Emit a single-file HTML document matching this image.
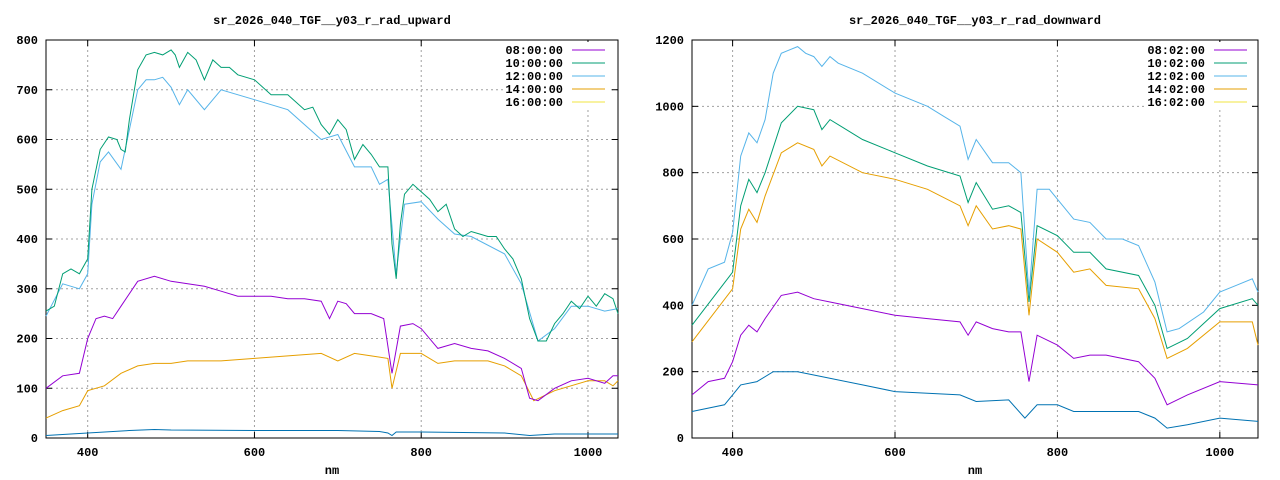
<!DOCTYPE html>
<html><head><meta charset="utf-8"><style>
html,body{margin:0;padding:0;background:#fff;}
svg{display:block;}
text{font-family:"Liberation Mono","DejaVu Sans Mono",monospace;font-size:12px;font-weight:bold;fill:#000;}
</style></head><body>
<svg id="s" width="1280" height="480" xmlns="http://www.w3.org/2000/svg"></svg>
<script>
const svg=document.getElementById('s');
let h='';
function chart(o){
  const {L,R,T,B,ymax,ystep,title,labels,series,legX}=o;
  const xend=o.xend||1036;
  const X=v=>L+(v-350)*(R-L)/(xend-350);
  const Y=v=>B-(v/ymax)*(B-T);
  for(let v=0;v<=ymax;v+=ystep){const y=Y(v);
    if(v>0&&v<ymax)h+=`<line x1="${L}" y1="${y}" x2="${R}" y2="${y}" stroke="#a0a0a0" stroke-dasharray="2,3"/>`;
    h+=`<line x1="${L}" y1="${y}" x2="${L+6}" y2="${y}" stroke="#000"/><line x1="${R-6}" y1="${y}" x2="${R}" y2="${y}" stroke="#000"/>`;
    h+=`<text x="${L-8}" y="${y+4}" text-anchor="end">${v}</text>`;}
  for(const v of [400,600,800,1000]){const x=X(v);
    h+=`<line x1="${x}" y1="${T}" x2="${x}" y2="${B}" stroke="#a0a0a0" stroke-dasharray="2,3"/>`;
    h+=`<line x1="${x}" y1="${B}" x2="${x}" y2="${B-6}" stroke="#000"/><line x1="${x}" y1="${T}" x2="${x}" y2="${T+6}" stroke="#000"/>`;
    h+=`<text x="${x}" y="${B+18}" text-anchor="middle">${v}</text>`;}
  h+=`<rect x="${L}" y="${T}" width="${R-L}" height="${B-T}" fill="none" stroke="#000"/>`;
  h+=`<text x="${(L+R)/2}" y="24" text-anchor="middle">${title}</text>`;
  h+=`<text x="${(L+R)/2}" y="474" text-anchor="middle">nm</text>`;
  const cols=['#9400d3','#009e73','#56b4e9','#e69f00','#f0e442'];
  labels.forEach((l,i)=>{const y=51+i*13;
    h+=`<rect x="${legX-58}" y="${y-9}" width="104" height="13" fill="#fff"/>`;
    h+=`<text x="${legX}" y="${y+3}" text-anchor="end">${l}</text><line x1="${legX+9}" y1="${y-1}" x2="${legX+42}" y2="${y-1}" stroke="${cols[i]}"/>`;});
  series.forEach(([c,d])=>{let p='';for(let i=0;i<d.length;i+=2)p+=(i?'L':'M')+X(Math.min(d[i],xend)).toFixed(1)+','+Y(d[i+1]).toFixed(1);
    h+=`<path d="${p}" fill="none" stroke="${c}" stroke-width="1"/>`;});
}
chart({L:46,R:618,T:40,B:438,ymax:800,ystep:100,title:'sr_2026_040_TGF__y03_r_rad_upward',legX:563,xend:1036,
labels:['08:00:00','10:00:00','12:00:00','14:00:00','16:00:00'],
series:[
['#0072b2',[350,5,400,10,450,15,480,17,500,16,600,15,700,15,750,13,760,10,765,5,770,12,800,12,900,10,930,5,960,8,1036,8]],
['#e69f00',[350,40,370,55,390,65,400,95,420,105,440,130,460,145,480,150,500,150,520,155,560,155,600,160,640,165,680,170,700,155,720,170,740,165,760,160,765,100,775,170,800,170,820,150,840,155,880,155,900,145,920,125,935,75,960,95,1000,115,1020,115,1030,105,1036,115]],
['#9400d3',[350,100,370,125,390,130,400,200,410,240,420,245,430,240,440,265,460,315,480,325,500,315,520,310,540,305,560,295,580,285,600,285,620,285,640,280,660,280,680,275,690,240,700,275,710,270,720,250,740,250,755,240,765,130,775,225,790,230,800,220,820,180,840,190,860,180,880,175,900,160,920,140,930,80,940,75,960,100,980,115,1000,120,1020,110,1030,125,1036,125]],
['#56b4e9',[350,245,370,310,390,300,400,330,405,470,415,555,425,575,440,540,450,620,460,700,470,720,480,720,490,725,500,705,510,670,520,700,540,660,560,700,600,680,640,660,680,600,700,610,720,545,740,545,750,510,760,520,770,330,780,470,800,475,820,440,840,410,860,405,900,370,920,310,940,195,960,220,980,265,1000,265,1020,255,1036,260]],
['#009e73',[350,255,360,265,370,330,380,340,390,330,400,360,405,500,415,580,425,605,435,600,440,580,445,575,450,640,460,740,470,770,480,775,490,770,500,780,505,770,510,745,520,775,530,760,540,720,550,760,560,745,570,745,580,730,600,720,620,690,640,690,660,660,670,665,680,630,690,610,700,640,710,620,720,560,730,590,740,570,750,545,760,545,765,390,770,320,775,430,780,490,790,510,800,495,810,480,820,455,830,470,840,420,850,405,860,415,870,410,880,405,890,405,900,380,910,360,920,320,930,240,940,195,950,195,960,230,970,250,980,275,990,260,1000,285,1010,265,1020,290,1030,280,1036,250]]
]});
chart({L:692,R:1258,T:40,B:438,ymax:1200,ystep:200,title:'sr_2026_040_TGF__y03_r_rad_downward',legX:1205,xend:1047,
labels:['08:02:00','10:02:00','12:02:00','14:02:00','16:02:00'],
series:[
['#0072b2',[350,80,390,100,400,130,410,160,430,170,450,200,480,200,500,190,560,160,600,140,680,130,700,110,740,115,760,60,775,100,800,100,820,80,900,80,920,60,935,30,960,40,1000,60,1047,50]],
['#9400d3',[350,130,370,170,390,180,400,230,410,310,420,340,430,320,440,360,460,430,480,440,500,420,520,410,560,390,600,370,640,360,680,350,690,310,700,350,720,330,740,320,755,320,765,170,775,310,800,280,820,240,840,250,860,250,900,230,920,180,935,100,960,130,1000,170,1047,160]],
['#e69f00',[350,290,400,450,410,630,420,690,430,650,440,730,460,860,480,890,500,870,510,820,520,850,560,800,600,780,640,750,680,700,690,640,700,700,720,630,740,640,755,630,765,370,775,600,800,560,820,500,840,510,860,460,900,450,920,360,935,240,960,270,1000,350,1040,350,1047,280]],
['#009e73',[350,340,400,500,410,700,420,780,430,740,440,800,460,950,480,1000,500,990,510,930,520,960,560,900,600,860,640,820,680,790,690,710,700,770,720,690,740,700,755,680,765,410,775,640,800,610,820,560,840,560,860,510,900,490,920,400,935,270,960,300,1000,390,1040,420,1047,400]],
['#56b4e9',[350,400,370,510,390,530,400,620,410,850,420,920,430,890,440,960,450,1100,460,1160,470,1170,480,1180,490,1160,500,1150,510,1120,520,1150,530,1130,560,1100,600,1040,640,1000,660,970,680,940,690,840,700,900,720,830,740,830,755,800,765,430,775,750,790,750,800,720,820,660,840,650,860,600,880,600,900,580,920,470,935,320,950,330,980,380,1000,440,1020,460,1040,480,1047,440]]
]});
svg.innerHTML=h;
</script>
</body></html>
